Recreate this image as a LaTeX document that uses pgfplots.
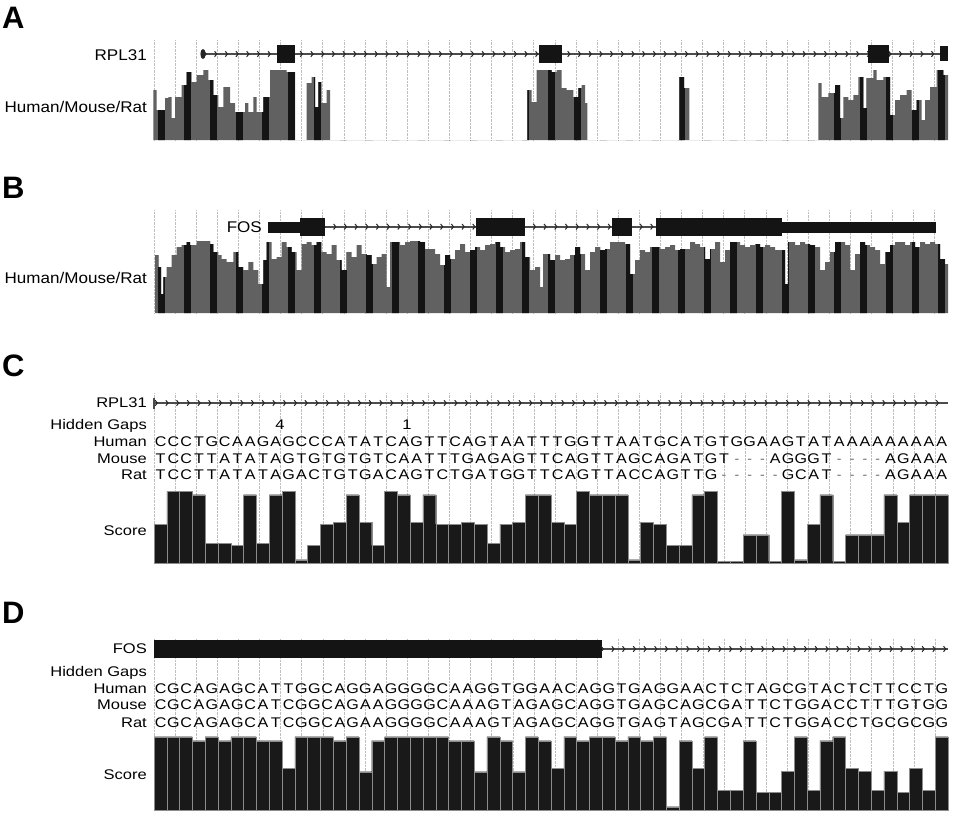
\documentclass[border=0pt]{standalone}
\usepackage{pgfplots}
\pgfplotsset{compat=1.18}
\usepackage{pgfplotstable}
\usepackage{graphicx}
\usepackage{fontspec}
\setmainfont{Liberation Sans}
\usetikzlibrary{decorations.markings, arrows.meta, patterns.meta}

\tikzdeclarepattern{
  name=darkstripes,
  type=uncolored,
  bounding box={(0pt,0pt) and (26.45pt,812pt)},
  tile size={(26.45pt,812pt)},
  code={\fill (0pt,0pt) rectangle (7pt,812pt);}
}

\makeatletter
\def\seq#1{\seq@loop#1\relax}
\def\seq@loop#1{\ifx\relax#1\else\seq@char{#1}\expandafter\seq@loop\fi}
\def\seq@char#1{\makebox[12.806pt]{\if-#1{\color{black!55}-}\else\scalebox{1.15}[1]{#1}\fi}}
\makeatother

\newcommand\lab[1]{{\fontsize{15.5}{17}\selectfont\scalebox{1.1}[1]{#1}}}
\newcommand\labc[1]{{\fontsize{14}{16}\selectfont\scalebox{1.18}[1]{#1}}}
\newcommand\seqfont{\fontsize{14}{16}\selectfont}
\newcommand\panel[1]{{\fontsize{31}{32}\selectfont\bfseries #1}}

\tikzset{
  intron/.style={draw=black!70, line width=1.8pt, postaction={decorate},
    decoration={markings, mark=between positions 0.005 and 1 step 10.7pt with
      {\arrow[black!85, line width=1pt]{Straight Barb[length=2.2pt, width=5.5pt]}}}},
  exon/.style={fill=black!92, draw=none}
}

\pgfplotsset{
  track/.style={scale only axis, anchor=south west, axis line style={draw=none},
    tick style={draw=none}, xticklabels={}, ytick=\empty, xmajorgrids,
    major grid style={black!25, densely dotted, line width=0.6pt},
    clip=false, ymin=0}
}

% Panel A conservation profile (x in px, height in px)
\pgfplotstableread{
x h
153.3 50
156.7 30
165 42
168.3 43
171.7 22
175 43
181.7 55
186.7 68
191.7 58
196.7 65
203.3 70
208.3 60
213.3 45
218.3 33
223.3 53
230 37
235 28
245 37
248.3 28
253.3 43
256.7 28
263.3 43
270 70
276.7 70
286.7 68
295 0
306.7 57
311.7 63
315 33
318.3 58
321.7 37
326.7 50
330 0
527.3 50
531.7 38
536.7 70
551.7 68
556.7 70
561.7 52
566.7 50
573.3 43
578.3 52
581.7 55
585 37
587.3 0
679.3 63
684 52
689.3 0
818.3 57
821.7 43
828.3 47
835 55
840 22
843.3 43
848.3 40
853.3 45
858.3 63
863.3 32
866.7 62
873.3 70
876.7 60
883.3 63
890 25
895 40
900 45
906.7 50
911.7 30
916.7 40
921.7 20
925 40
930 53
936.7 70
943.3 65
948 65
}\profA

% Panel B conservation profile
\pgfplotstableread{
x h
155 58
158.3 46
161 19
163.3 36
166.7 46
171.7 58
176.7 66
181.7 68
186.7 71
190 68
196.7 72
210 69
213.3 61
218.3 58
221.7 54
226.7 51
233.3 61
238.3 46
243.3 43
248.3 51
253.3 43
258.3 29
263.3 53
266.7 71
271.7 54
276.7 56
281.7 71
286.7 66
291.7 61
296.7 43
301.7 69
306.7 71
311.7 68
316.7 71
321.7 61
326.7 59
331.7 68
336.7 53
341.7 43
346.7 61
351.7 56
356.7 68
361.7 59
366.7 58
371.7 49
376.7 56
381.7 59
386.7 26
390 71
400 68
405 71
410 72
420 71
425 64
435 59
440 48
445 58
450 54
455 63
460 69
465 61
470 63
475 66
480 63
485 68
490 69
495 71
500 66
505 61
510 63
515 64
520 71
525 56
530 43
535 46
540 26
543 59
550 53
555 58
560 53
565 54
570 58
575 66
580 59
585 43
590 61
595 66
600 63
605 64
610 71
615 71
620 71
625 69
630 39
635 53
640 63
645 61
650 66
655 66
660 64
665 66
670 68
675 63
680 64
685 64
690 71
695 69
700 66
705 54
710 64
715 71
720 51
725 63
730 71
735 71
740 68
745 66
750 68
755 69
760 66
765 68
770 66
775 63
780 63
785 29
788 71
795 68
800 71
805 69
810 68
815 66
820 43
825 51
830 61
835 71
840 71
845 68
850 43
855 59
860 71
865 68
870 66
875 63
880 49
885 61
890 68
895 71
900 71
905 68
910 71
915 66
920 71
925 69
930 71
935 69
940 54
945 49
948 49
}\profB

% Panel C score (base index, height in px)
\pgfplotstableread{
x h
0 39
1 71.7
2 71.7
3 68.3
4 20
5 20
6 17.7
7 68.3
8 20
9 68.3
10 71.7
11 3.3
12 17.7
13 39
14 41
15 68.3
16 41
17 17.7
18 71.7
19 68.3
20 41
21 68.3
22 39
23 39
24 41
25 39
26 20
27 39
28 41
29 68.3
30 68.3
31 41
32 39
33 71.7
34 68.3
35 68.3
36 68.3
37 3.3
38 41
39 39
40 17.7
41 17.7
42 68.3
43 71.7
44 1.7
45 1.7
46 28.3
47 28.3
48 1.7
49 71.7
50 3.3
51 39
52 68.3
53 1.7
54 28.3
55 28.3
56 28.3
57 68.3
58 41
59 68.3
60 68.3
61 68.3
62 68.3
}\scoreC

% Panel D score
\pgfplotstableread{
x h
0 73.3
1 73.3
2 73.3
3 69.3
4 73.3
5 69.3
6 73.3
7 73.3
8 69.3
9 69.3
10 41.7
11 73.3
12 73.3
13 73.3
14 69.3
15 73.3
16 38.3
17 69.3
18 73.3
19 73.3
20 73.3
21 73.3
22 73.3
23 69.3
24 69.3
25 38.3
26 73.3
27 69.3
28 38.3
29 73.3
30 69.3
31 41.7
32 73.3
33 69.3
34 73.3
35 73.3
36 69.3
37 73.3
38 69.3
39 73.3
40 3.3
41 69.3
42 41.7
43 73.3
44 20
45 20
46 69.3
47 17.7
48 17.7
49 39
50 73.3
51 20
52 69.3
53 73.3
54 41.7
55 39
56 20
57 39
58 17.7
59 41.7
60 20
61 73.3
62 73.3
}\scoreD

\begin{document}
\begin{tikzpicture}
\useasboundingbox (0pt,0pt) rectangle (954pt,-812pt);

% ---------------- Panel A ----------------
\begin{axis}[track, at={(153pt,-140pt)}, width=795pt, height=100pt,
  xmin=153, xmax=948, ymax=100, xtick={153.9,175,...,948}]
\addplot[const plot, fill=black!62, draw=none] table {\profA} \closedcycle;
\addplot[const plot, pattern=darkstripes, pattern color=black!92, draw=none] table {\profA} \closedcycle;
\draw[intron] (axis cs:203,86) -- (axis cs:944,86);
\fill[black!85] (axis cs:203,86) ellipse [x radius=2.6pt, y radius=5pt];
\fill[exon] (axis cs:277,77) rectangle (axis cs:295,95);
\fill[exon] (axis cs:539,77) rectangle (axis cs:562,95);
\fill[exon] (axis cs:868,77) rectangle (axis cs:889,95);
\fill[exon] (axis cs:940,79) rectangle (axis cs:948,94);
\end{axis}

% ---------------- Panel B ----------------
\begin{axis}[track, at={(153pt,-313pt)}, width=795pt, height=103pt,
  xmin=153, xmax=948, ymax=103, xtick={153.9,175,...,948}]
\addplot[const plot, fill=black!62, draw=none] table {\profB} \closedcycle;
\addplot[const plot, pattern=darkstripes, pattern color=black!92, draw=none] table {\profB} \closedcycle;
\draw[intron] (axis cs:325,86.3) -- (axis cs:476,86.3);
\draw[intron] (axis cs:525,86.3) -- (axis cs:612,86.3);
\draw[intron] (axis cs:632,86.3) -- (axis cs:656,86.3);
\fill[exon] (axis cs:268,79.7) rectangle (axis cs:300,91.3);
\fill[exon] (axis cs:300,77.3) rectangle (axis cs:325,95.3);
\fill[exon] (axis cs:476,77.3) rectangle (axis cs:525,95.3);
\fill[exon] (axis cs:612,77.3) rectangle (axis cs:632,95.3);
\fill[exon] (axis cs:656,77.3) rectangle (axis cs:782,95.3);
\fill[exon] (axis cs:782,80.3) rectangle (axis cs:936,91.3);
\end{axis}

% ---------------- Panel C ----------------
\begin{axis}[track, at={(154pt,-563pt)}, width=794pt, height=170pt,
  xmin=0, xmax=62, ymax=170, xtick={0,1.6484,...,62.1}]
\addplot[ybar interval, fill=black!90, draw=black!45, line width=0.4pt] table {\scoreC};
\draw[black!70, line width=1.4pt] (axis cs:0,154.5) -- (axis cs:0,165.5);
\draw[intron] (axis cs:0,160) -- (axis cs:62,160);
\end{axis}

% ---------------- Panel D ----------------
\begin{axis}[track, at={(154pt,-810pt)}, width=794pt, height=172pt,
  xmin=0, xmax=62, ymax=172, xtick={0,1.6484,...,62.1}]
\addplot[ybar interval, fill=black!90, draw=black!45, line width=0.4pt] table {\scoreD};
\fill[exon] (axis cs:0,152) rectangle (axis cs:35,170);
\draw[intron] (axis cs:35,161) -- (axis cs:62,161);
\end{axis}

% ---------------- Labels ----------------
\node[anchor=base west, inner sep=0] at (2pt,-28pt) {\panel{A}};
\node[anchor=base west, inner sep=0] at (2pt,-198pt) {\panel{B}};
\node[anchor=base west, inner sep=0] at (2pt,-376pt) {\panel{C}};
\node[anchor=base west, inner sep=0] at (2pt,-623pt) {\panel{D}};

\node[anchor=base east, inner sep=0] at (147pt,-60.5pt) {\lab{RPL31}};
\node[anchor=base east, inner sep=0] at (147pt,-112pt) {\lab{Human/Mouse/Rat}};
\node[anchor=base east, inner sep=0] at (262pt,-232.5pt) {\lab{FOS}};
\node[anchor=base east, inner sep=0] at (147pt,-283pt) {\lab{Human/Mouse/Rat}};

\node[anchor=base east, inner sep=0] at (147pt,-407pt) {\labc{RPL31}};
\node[anchor=base east, inner sep=0] at (147pt,-429pt) {\labc{Hidden Gaps}};
\node[anchor=base east, inner sep=0] at (147pt,-446pt) {\labc{Human}};
\node[anchor=base east, inner sep=0] at (147pt,-463pt) {\labc{Mouse}};
\node[anchor=base east, inner sep=0] at (147pt,-479pt) {\labc{Rat}};
\node[anchor=base east, inner sep=0] at (147pt,-535pt) {\labc{Score}};
\node[anchor=base, inner sep=0] at (280pt,-429pt) {\labc{4}};
\node[anchor=base, inner sep=0] at (407pt,-429pt) {\labc{1}};
\node[anchor=base west, inner sep=0] at (154pt,-446pt) {\seqfont\seq{CCCTGCAAGAGCCCATATCAGTTCAGTAATTTGGTTAATGCATGTGGAAGTATAAAAAAAAA}};
\node[anchor=base west, inner sep=0] at (154pt,-463pt) {\seqfont\seq{TCCTTATATAGTGTGTGTCAATTTGAGAGTTCAGTTAGCAGATGT---AGGGT----AGAAA}};
\node[anchor=base west, inner sep=0] at (154pt,-479pt) {\seqfont\seq{TCCTTATATAGACTGTGACAGTCTGATGGTTCAGTTACCAGTTG-----GCAT----AGAAA}};

\node[anchor=base east, inner sep=0] at (147pt,-653pt) {\labc{FOS}};
\node[anchor=base east, inner sep=0] at (147pt,-676pt) {\labc{Hidden Gaps}};
\node[anchor=base east, inner sep=0] at (147pt,-693pt) {\labc{Human}};
\node[anchor=base east, inner sep=0] at (147pt,-709pt) {\labc{Mouse}};
\node[anchor=base east, inner sep=0] at (147pt,-727pt) {\labc{Rat}};
\node[anchor=base east, inner sep=0] at (147pt,-779pt) {\labc{Score}};
\node[anchor=base west, inner sep=0] at (154pt,-693pt) {\seqfont\seq{CGCAGAGCATTGGCAGGAGGGGCAAGGTGGAACAGGTGAGGAACTCTAGCGTACTCTTCCTG}};
\node[anchor=base west, inner sep=0] at (154pt,-709pt) {\seqfont\seq{CGCAGAGCATCGGCAGAAGGGGCAAAGTAGAGCAGGTGAGCAGCGATTCTGGACCTTTGTGG}};
\node[anchor=base west, inner sep=0] at (154pt,-727pt) {\seqfont\seq{CGCAGAGCATCGGCAGAAGGGGCAAAGTAGAGCAGGTGAGTAGCGATTCTGGACCTGCGCGG}};
\end{tikzpicture}
\end{document}
